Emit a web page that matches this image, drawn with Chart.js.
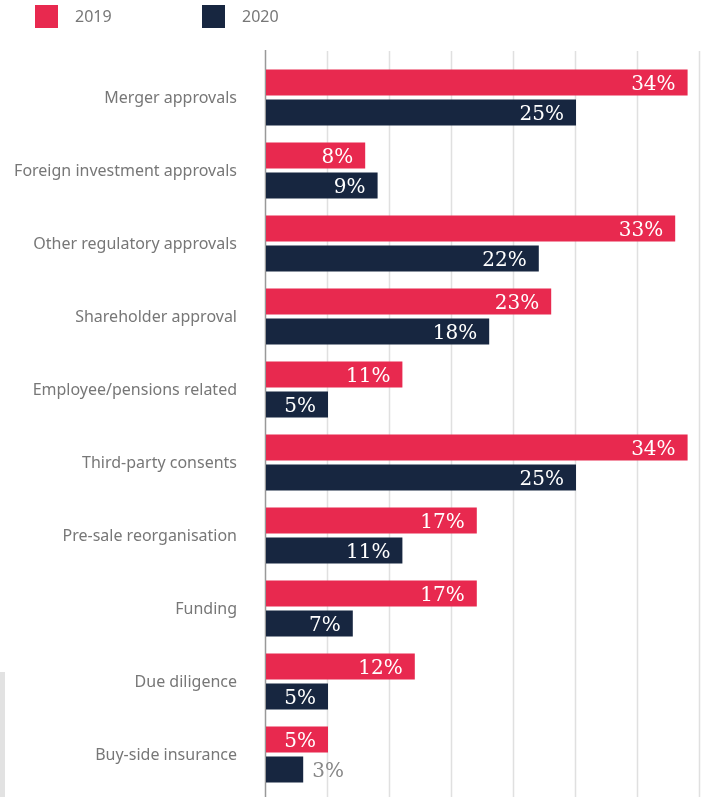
<!DOCTYPE html>
<html>
<head>
<meta charset="utf-8">
<script src="https://cdn.jsdelivr.net/npm/chart.js@4.4.1/dist/chart.umd.min.js"></script>
<style>
  html, body { margin: 0; padding: 0; background: #fff; }
  #wrap { position: relative; width: 701px; height: 797px; overflow: hidden; }
  #chart { position: absolute; left: 0; top: 0; }
  .legend-item { position: absolute; top: 5px; font: 16px "Noto Sans", sans-serif; color: #777; line-height: 23px; }
  .legend-item span.box { position: absolute; left: 0; top: 0; width: 23px; height: 23px; }
  .legend-item span.txt { position: absolute; left: 40px; top: 0; white-space: nowrap; }
  #side { position: absolute; left: 0; top: 672px; width: 5px; height: 125px; background: #e2e2e2; }
</style>
</head>
<body>
<div id="wrap">
  <canvas id="chart" width="701" height="797"></canvas>
  <div class="legend-item" style="left:35px"><span class="box" style="background:#e8294f"></span><span class="txt">2019</span></div>
  <div class="legend-item" style="left:202px"><span class="box" style="background:#172640"></span><span class="txt">2020</span></div>
  <div id="side"></div>
</div>
<script>
// Deal hold-ups by type, share of respondents
const categories = [
    'Merger approvals',
    'Foreign investment approvals',
    'Other regulatory approvals',
    'Shareholder approval',
    'Employee/pensions related',
    'Third-party consents',
    'Pre-sale reorganisation',
    'Funding',
    'Due diligence',
    'Buy-side insurance'
];
const values2019 = [34, 8, 33, 23, 11, 34, 17, 17, 12, 5];
const values2020 = [25, 9, 22, 18, 5, 25, 11, 7, 5, 3];
const seriesLabels = ['2019', '2020'];

const RED = '#e8294f';
const NAVY = '#172640';

// Vertical grid + axis line, drawn taller than the plot area
const gridPlugin = {
    id: 'tallGrid',
    beforeDatasetsDraw(chart) {
        const ctx = chart.ctx;
        const x = chart.scales.x;
        ctx.save();
        ctx.strokeStyle = '#e0e0e0';
        ctx.lineWidth = 1.5;
        x.ticks.forEach(t => {
            if (t.value === 0) return;
            const px = Math.round(x.getPixelForValue(t.value)) - 0.5;
            ctx.beginPath();
            ctx.moveTo(px, 51);
            ctx.lineTo(px, chart.height);
            ctx.stroke();
        });
        ctx.strokeStyle = '#999';
        ctx.lineWidth = 1.5;
        const ax = x.getPixelForValue(0) - 0.5;
        ctx.beginPath();
        ctx.moveTo(ax, 50);
        ctx.lineTo(ax, chart.height);
        ctx.stroke();
        ctx.restore();
    }
};

// Percentage labels at the end of each bar
const valueLabels = {
    id: 'valueLabels',
    afterDatasetsDraw(chart) {
        const ctx = chart.ctx;
        ctx.save();
        ctx.font = '20px "DejaVu Serif", serif';
        ctx.textBaseline = 'middle';
        chart.data.datasets.forEach((ds, di) => {
            chart.getDatasetMeta(di).data.forEach((bar, i) => {
                const text = ds.data[i] + '%';
                const w = ctx.measureText(text).width;
                const barW = bar.x - bar.base;
                if (w + 16 < barW) {
                    ctx.fillStyle = '#fff';
                    ctx.textAlign = 'right';
                    ctx.fillText(text, bar.x - 12, bar.y + 2);
                } else {
                    ctx.fillStyle = '#888';
                    ctx.textAlign = 'left';
                    ctx.fillText(text, bar.x + 9, bar.y + 2);
                }
            });
        });
        ctx.restore();
    }
};

new Chart(document.getElementById('chart'), {
    type: 'bar',
    data: {
        labels: categories,
        datasets: [{
            label: seriesLabels[0],
            data: values2019,
            backgroundColor: RED,
            borderWidth: 0,
            categoryPercentage: 0.82,
            barPercentage: 0.867
        }, {
            label: seriesLabels[1],
            data: values2020,
            backgroundColor: NAVY,
            borderWidth: 0,
            categoryPercentage: 0.82,
            barPercentage: 0.867
        }]
    },
    options: {
        indexAxis: 'y',
        responsive: false,
        animation: false,
        layout: {
            padding: { top: 61, bottom: 6, left: 0, right: 1 }
        },
        plugins: {
            legend: { display: false },
            tooltip: { enabled: false }
        },
        scales: {
            x: {
                display: false,
                min: 0,
                max: 35,
                ticks: { stepSize: 5 }
            },
            y: {
                grid: { display: false, drawTicks: false },
                border: { display: false },
                ticks: {
                    color: '#777',
                    padding: 29,
                    labelOffset: 1,
                    font: { family: '"Noto Sans", sans-serif', size: 16 }
                },
                afterFit(scale) {
                    // fixed label column; no extra vertical padding from tick padding
                    scale.width = 266;
                    scale.paddingTop = 0;
                    scale.paddingBottom = 0;
                }
            }
        }
    },
    plugins: [gridPlugin, valueLabels]
});
</script>
</body>
</html>
